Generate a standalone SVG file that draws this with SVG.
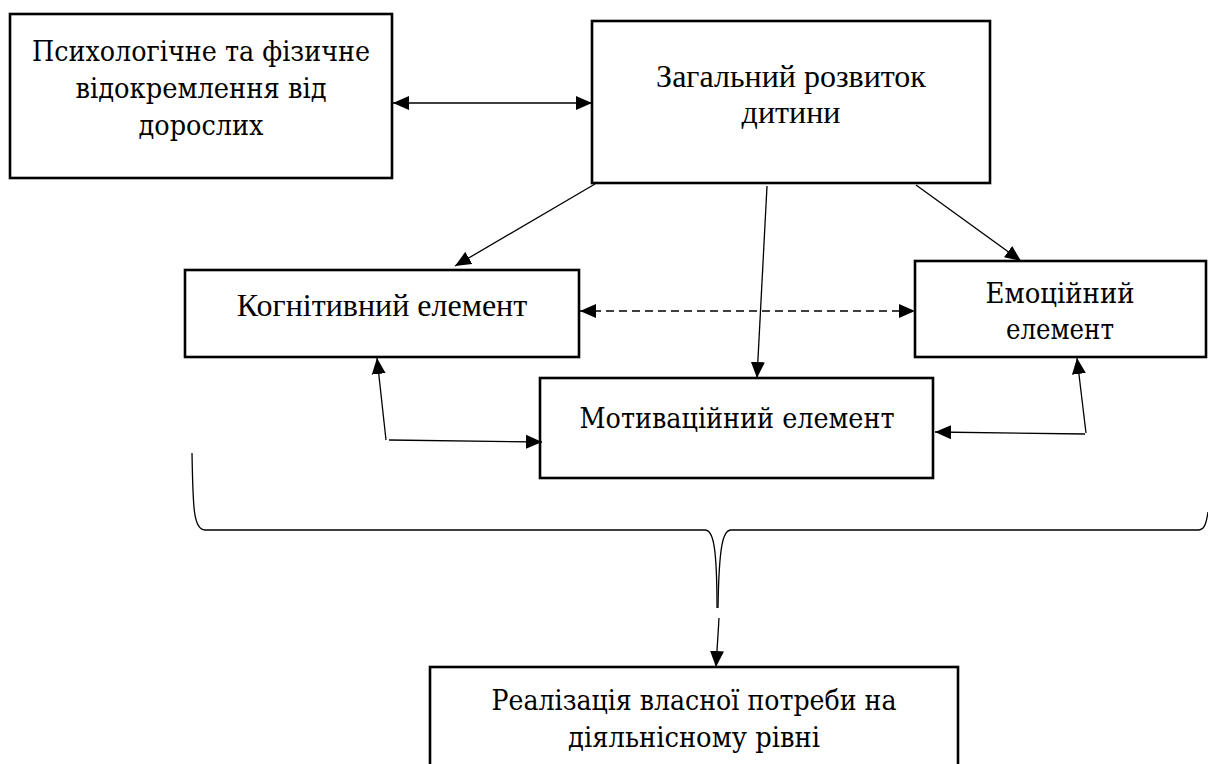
<svg xmlns="http://www.w3.org/2000/svg" width="1208" height="764" viewBox="0 0 1208 764">
<style>
.box{fill:#fff;stroke:#000;stroke-width:2.6}
.t{font-family:'DejaVu Serif';font-size:28.5px;fill:#000;text-anchor:middle}
.tl{font-family:'Liberation Serif';font-size:32px;fill:#000;text-anchor:middle}
.c{fill:none;stroke:#000;stroke-width:1.3}
.d{stroke-dasharray:8 5}
</style>
<defs>
<marker id="ah" markerUnits="userSpaceOnUse" markerWidth="17" markerHeight="15" refX="16" refY="7" orient="auto-start-reverse" viewBox="0 0 17 14">
<path d="M0,0 L16,7 L0,14 z" fill="#000"/>
</marker>
</defs>
<rect width="1208" height="764" fill="#fff"/>
<g id="n-separation">
<rect class="box" x="10" y="14" width="382" height="164"/>
<text class="t" x="201" y="61" textLength="338" lengthAdjust="spacingAndGlyphs">Психологічне та фізичне</text>
<text class="t" x="201" y="98" textLength="251" lengthAdjust="spacingAndGlyphs">відокремлення від</text>
<text class="t" x="201" y="135" textLength="125" lengthAdjust="spacingAndGlyphs">дорослих</text>
</g>
<g id="n-general">
<rect class="box" x="592" y="21" width="398" height="162"/>
<text class="tl" x="791" y="87">Загальний розвиток</text>
<text class="tl" x="791" y="123">дитини</text>
</g>
<g id="n-cognitive">
<rect class="box" x="185" y="270" width="394" height="87"/>
<text class="tl" x="382" y="316">Когнітивний елемент</text>
</g>
<g id="n-emotional">
<rect class="box" x="915" y="261" width="291" height="96"/>
<text class="t" x="1060" y="303" textLength="149" lengthAdjust="spacingAndGlyphs">Емоційний</text>
<text class="t" x="1060" y="339" textLength="108" lengthAdjust="spacingAndGlyphs">елемент</text>
</g>
<g id="n-motivational">
<rect class="box" x="540" y="378" width="393" height="100"/>
<text class="t" x="737" y="428" textLength="315" lengthAdjust="spacingAndGlyphs">Мотиваційний елемент</text>
</g>
<g id="n-realization">
<rect class="box" x="430" y="667" width="528" height="120"/>
<text class="t" x="694" y="710" textLength="405" lengthAdjust="spacingAndGlyphs">Реалізація власної потреби на</text>
<text class="t" x="694" y="747" textLength="252" lengthAdjust="spacingAndGlyphs">діяльнісному рівні</text>
</g>
<g id="connectors">
<line class="c" x1="393" y1="103" x2="592" y2="103" marker-start="url(#ah)" marker-end="url(#ah)"/>
<line class="c" x1="595" y1="184" x2="455" y2="266" marker-end="url(#ah)"/>
<line class="c" x1="767" y1="186" x2="757" y2="378" marker-end="url(#ah)"/>
<line class="c" x1="916" y1="185" x2="1021" y2="261" marker-end="url(#ah)"/>
<line class="c d" x1="580" y1="311" x2="915" y2="311" marker-start="url(#ah)" marker-end="url(#ah)"/>
<line class="c" x1="386" y1="440" x2="377" y2="358" marker-end="url(#ah)"/>
<line class="c" x1="389" y1="440" x2="542" y2="442" marker-end="url(#ah)"/>
<line class="c" x1="1086" y1="433" x2="1077" y2="358" marker-end="url(#ah)"/>
<line class="c" x1="1085" y1="434" x2="935" y2="432" marker-end="url(#ah)"/>
<path class="c" d="M192,453 C193,505 193,530 205,530 L705,530 C713,530 717,545 717,608"/>
<path class="c" d="M1208,512 C1206,525 1204,530 1198,530 L731,530 C723,530 719,545 718,608"/>
<line class="c" x1="719" y1="618" x2="716" y2="667" marker-end="url(#ah)"/>
</g>
</svg>
